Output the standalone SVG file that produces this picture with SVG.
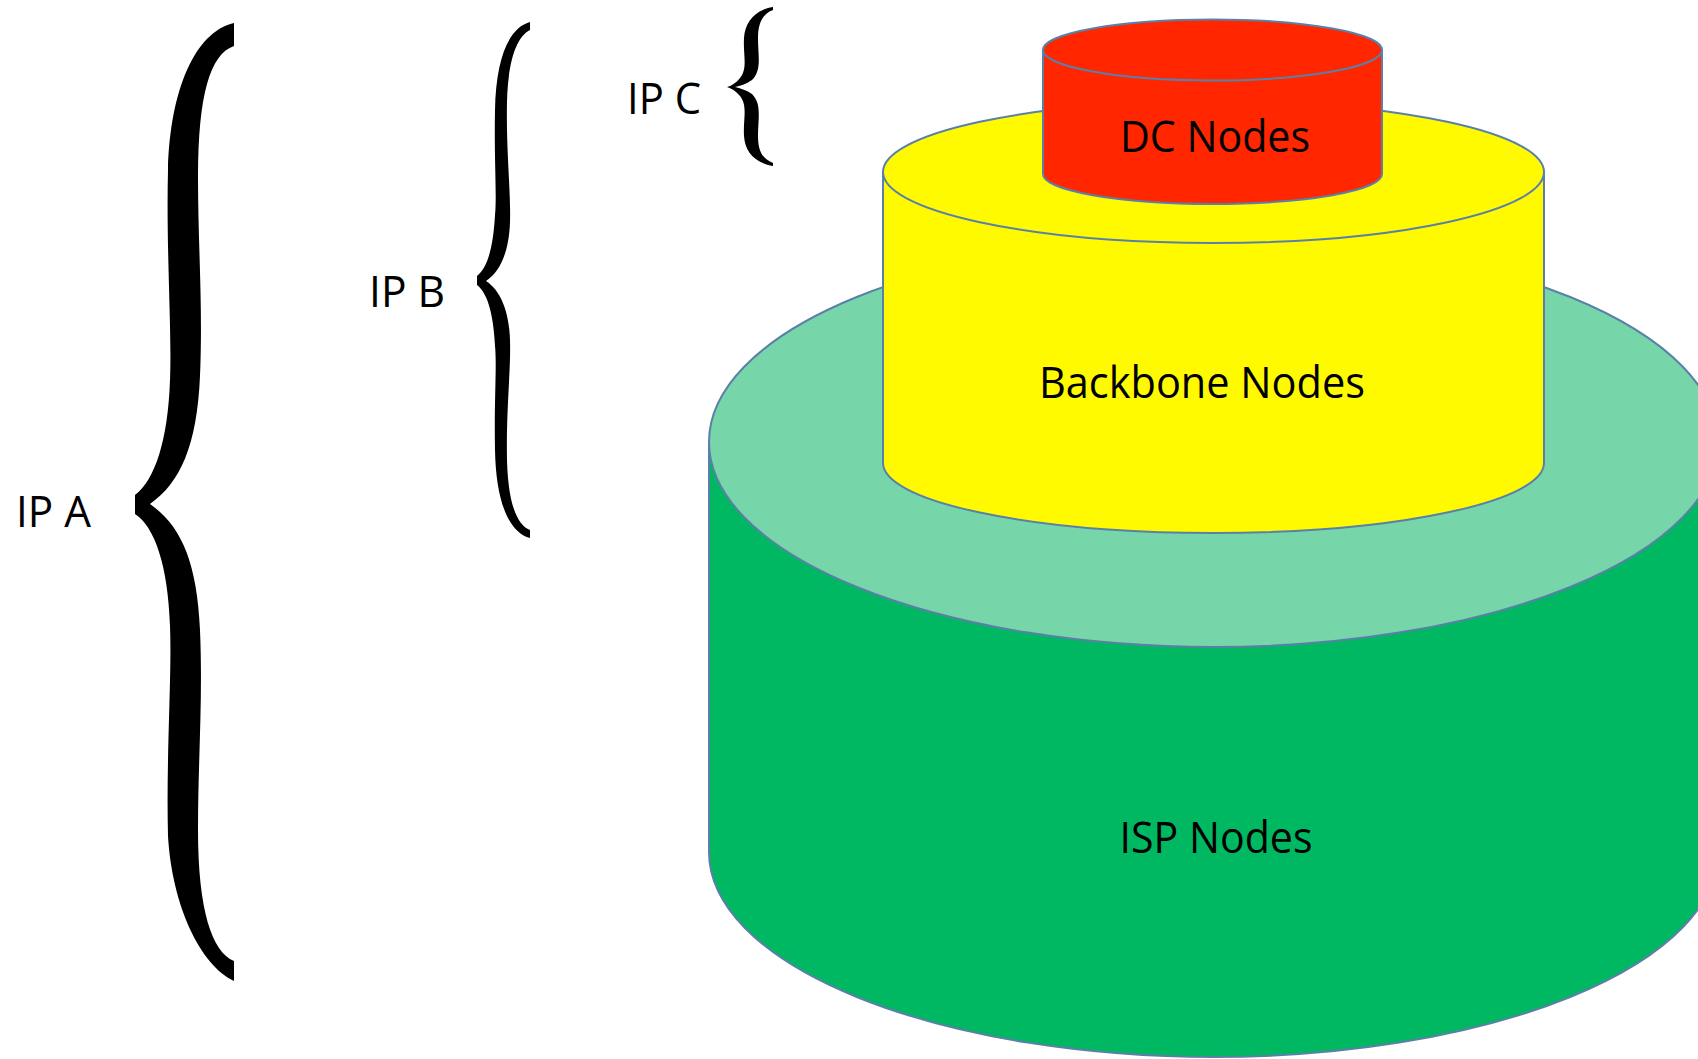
<svg xmlns="http://www.w3.org/2000/svg" width="1698" height="1059" viewBox="0 0 1698 1059">
<style>
.lbl{font-family:"Open Sans","Liberation Sans",Arial,sans-serif;font-size:43px;fill:#000}
.mid{text-anchor:middle}
.edge{stroke:#5A80A8;stroke-width:2}
.brace{fill:#000}
</style>
<rect width="1698" height="1059" fill="#fff"/>
<g id="isp-nodes">
<path class="edge" fill="#00B862" d="M709 442 L709 852 A504.5 205 0 0 0 1718 852 L1718 442 Z"/>
<ellipse class="edge" fill="#77D6A9" cx="1213.5" cy="442" rx="504.5" ry="205"/>
<text class="lbl mid" x="1216" y="853" textLength="193" lengthAdjust="spacingAndGlyphs">ISP Nodes</text>
</g>
<g id="backbone-nodes">
<path class="edge" fill="#FFFA00" d="M883 172 L883 463 A330.5 70 0 0 0 1544 463 L1544 172 Z"/>
<ellipse class="edge" fill="#FFFA00" cx="1213.5" cy="172" rx="330.5" ry="71"/>
<text class="lbl mid" x="1202" y="398" textLength="326" lengthAdjust="spacingAndGlyphs">Backbone Nodes</text>
</g>
<g id="dc-nodes">
<path class="edge" fill="#FF2600" d="M1043 50 L1043 174 A169.5 30 0 0 0 1382 174 L1382 50 Z"/>
<ellipse class="edge" fill="#FF2600" cx="1212.5" cy="50" rx="169.5" ry="30.5"/>
<text class="lbl mid" x="1215" y="152" textLength="190" lengthAdjust="spacingAndGlyphs">DC Nodes</text>
</g>
<g id="ip-a">
<path class="brace" d="M234 23 C195 32 170 90 168 170 C166 250 172 330 170 380 C168 440 155 480 135 495 L135 514 C155 527 168 566 170 626 C172 676 166 756 168 836 C172 905 200 965 234 981 L234 961 C212 952 198 910 198 830 C198 760 203 700 200 630 C197 560 180 525 150 504 C180 483 197 446 200 376 C203 306 198 246 198 176 C198 96 210 54 234 46 Z"/>
<text class="lbl" x="16" y="527" textLength="75" lengthAdjust="spacingAndGlyphs">IP A</text>
</g>
<g id="ip-b">
<path class="brace" d="M530 22 C508 28 496 60 495 110 C494 160 497 195 495 215 C493 250 487 268 477 276 L477 285 C487 293 493 311 495 346 C497 366 494 400 495 450 C496 500 508 532 530 538 L530 530 C516 525 508 500 507 460 C506 410 511 370 510 340 C509 310 500 290 486 281 C500 272 509 252 510 222 C511 192 506 152 507 102 C508 62 516 37 530 30 Z"/>
<text class="lbl" x="369" y="307" textLength="76" lengthAdjust="spacingAndGlyphs">IP B</text>
</g>
<g id="ip-c">
<path class="brace" d="M773 7 C755 10 745 22 744 38 C743 55 748 68 740 78 C736 83 731 86 727 87 C731 88 736 91 740 96 C748 106 743 119 744 136 C745 152 755 163 773 166 L773 163 C762 159 758 150 758 136 C758 118 762 104 752 94 C746 90 740 88 735 87 C740 86 746 84 752 80 C762 70 758 56 758 38 C758 24 762 14 773 10 Z"/>
<text class="lbl" x="627" y="114" textLength="74" lengthAdjust="spacingAndGlyphs">IP C</text>
</g>
<g id="connectors"></g>
</svg>
